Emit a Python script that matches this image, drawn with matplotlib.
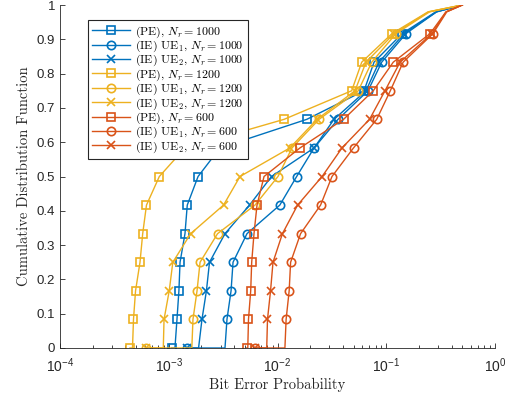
import numpy as np
import matplotlib.pyplot as plt
from matplotlib.lines import Line2D
from matplotlib.font_manager import FontProperties

# CDF levels: first point, end of the flat part at 0, markers at k/12, near top, top
cdf = [0, 0] + [k / 12 for k in range(1, 12)] + [0.98, 1.0]
marks = [0] + list(range(2, 13))

# bit error probability
ber_pe_1000 = [1.06e-3, 1.14e-3, 1.19e-3, 1.24e-3, 1.27e-3, 1.41e-3, 1.48e-3, 1.86e-3,
               2.96e-3, 1.86e-2, 6.25e-2, 7.72e-2, 0.140, 0.285, 0.5]
ber_ue1_1000 = [1.47e-3, 3.29e-3, 3.43e-3, 3.74e-3, 3.90e-3, 5.24e-3, 1.05e-2, 1.50e-2,
                2.17e-2, 3.60e-2, 6.80e-2, 9.08e-2, 0.152, 0.29, 0.5]
ber_ue2_1000 = [1.47e-3, 1.88e-3, 2.02e-3, 2.22e-3, 2.37e-3, 3.29e-3, 5.53e-3, 8.81e-3,
                2.17e-2, 3.31e-2, 6.51e-2, 8.58e-2, 0.146, 0.29, 0.5]
ber_pe_1200 = [4.40e-4, 4.64e-4, 4.74e-4, 4.95e-4, 5.44e-4, 5.76e-4, 6.24e-4, 8.19e-4,
               1.41e-3, 1.15e-2, 4.81e-2, 5.95e-2, 0.113, 0.242, 0.5]
ber_ue1_1200 = [6.18e-4, 1.63e-3, 1.67e-3, 1.82e-3, 1.94e-3, 2.81e-3, 6.21e-3, 1.01e-2,
                1.36e-2, 2.41e-2, 5.53e-2, 7.35e-2, 0.123, 0.25, 0.5]
ber_ue2_1200 = [6.18e-4, 8.91e-4, 9.05e-4, 1.01e-3, 1.09e-3, 1.59e-3, 3.19e-3, 4.52e-3,
                1.30e-2, 2.31e-2, 5.16e-2, 6.51e-2, 0.118, 0.245, 0.5]
ber_pe_600 = [5.21e-3, 5.33e-3, 5.41e-3, 5.67e-3, 5.79e-3, 6.08e-3, 6.48e-3, 7.52e-3,
              1.61e-2, 4.05e-2, 7.60e-2, 0.116, 0.253, 0.354, 0.5]
ber_ue1_600 = [6.21e-3, 1.17e-2, 1.20e-2, 1.28e-2, 1.32e-2, 1.63e-2, 2.49e-2, 3.17e-2,
               5.00e-2, 8.17e-2, 0.109, 0.143, 0.269, 0.36, 0.5]
ber_ue2_600 = [6.21e-3, 7.96e-3, 8.09e-3, 8.63e-3, 9.09e-3, 1.11e-2, 1.53e-2, 2.57e-2,
               3.92e-2, 7.02e-2, 9.74e-2, 0.134, 0.263, 0.355, 0.5]

labels = [r'(PE), $N_r = 1000$', r'(IE) UE$_1$, $N_r = 1000$', r'(IE) UE$_2$, $N_r = 1000$',
          r'(PE), $N_r = 1200$', r'(IE) UE$_1$, $N_r = 1200$', r'(IE) UE$_2$, $N_r = 1200$',
          r'(PE), $N_r = 600$', r'(IE) UE$_1$, $N_r = 600$', r'(IE) UE$_2$, $N_r = 600$']
series = [ber_pe_1000, ber_ue1_1000, ber_ue2_1000,
          ber_pe_1200, ber_ue1_1200, ber_ue2_1200,
          ber_pe_600, ber_ue1_600, ber_ue2_600]

blue, yellow, orange = '#0072BD', '#EDB120', '#D95319'
colors = [blue] * 3 + [yellow] * 3 + [orange] * 3
markers = ['s', 'o', 'x'] * 3
msizes = {'s': 5.2, 'o': 6.0, 'x': 5.5}

plt.rcParams['font.family'] = 'Liberation Sans'
plt.rcParams['mathtext.fontset'] = 'custom'
plt.rcParams['mathtext.rm'] = 'Liberation Sans'

fig = plt.figure(figsize=(5.14, 3.96), dpi=100)
ax = fig.add_axes([60 / 514, 48 / 396, 435 / 514, 343 / 396])

handles = []
for ber, c, m, lab in zip(series, colors, markers, labels):
    ax.plot(ber, cdf, color=c, lw=1.0, marker=m, ms=msizes[m], mfc='none', mew=1.2,
            markevery=marks)
    handles.append(Line2D([], [], color=c, lw=1.0, marker=m, ms=msizes[m], mfc='none',
                          mew=1.2))

ax.set_xscale('log')
ax.set_xlim(1e-4, 1)
ax.set_ylim(0, 1)
ax.set_yticks(np.arange(0, 1.01, 0.1))
ax.set_yticklabels(['0', '0.1', '0.2', '0.3', '0.4', '0.5', '0.6', '0.7', '0.8', '0.9', '1'])
for s in ['top', 'right']:
    ax.spines[s].set_visible(False)
for s in ['left', 'bottom']:
    ax.spines[s].set_color('#262626')
    ax.spines[s].set_linewidth(0.6)
ax.tick_params(which='both', direction='in', colors='#262626', labelsize=9.5, width=0.6)
ax.tick_params(which='major', length=3.5)
ax.tick_params(which='minor', length=2)
ax.tick_params(axis='x', which='both', pad=6, labelsize=10)

ax.set_xlabel('Bit Error Probability', fontfamily='cmr10', fontsize=10.5, color='#262626',
              labelpad=2)
ax.set_ylabel('Cumulative Distribution Function', fontfamily='cmr10', fontsize=10.5,
              color='#262626')

leg = ax.legend(handles, labels, loc='upper left', bbox_to_anchor=(0.064, 0.956),
                borderaxespad=0, prop=FontProperties(family='cmr10', size=8.6,
                                                     math_fontfamily='cm'),
                handlelength=3.2, handletextpad=0.4, labelspacing=-0.08,
                borderpad=0.35, fancybox=False, framealpha=1)
leg.get_frame().set_edgecolor('#262626')
leg.get_frame().set_linewidth(0.8)

fig.savefig('out.png', dpi=100)
